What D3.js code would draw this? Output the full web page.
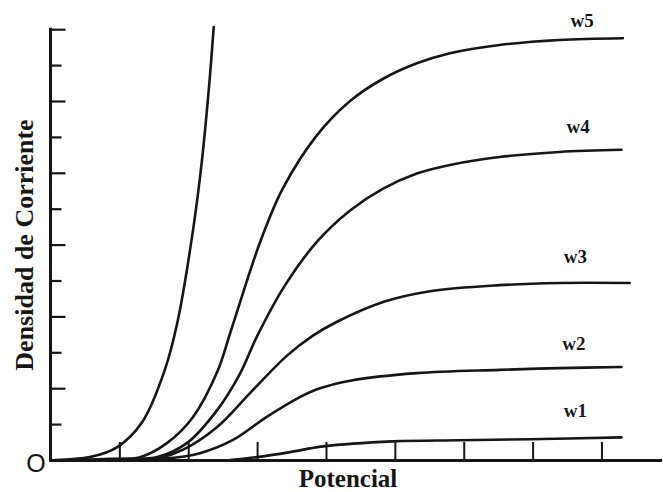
<!DOCTYPE html>
<html>
<head>
<meta charset="utf-8">
<script src="https://cdn.jsdelivr.net/npm/d3@7"></script>
<style>
  html, body { margin: 0; padding: 0; background: #fff; }
  svg { display: block; }
</style>
</head>
<body>
<div id="chart"></div>
<script>
// ── Curvas de polarización: densidad de corriente vs potencial ──

const seriesNames = ['w1', 'w2', 'w3', 'w4', 'w5']

// potential (x) / current density (y), in tick units
const steepX = [0.07, 0.57, 0.97, 1.33, 1.66, 1.85, 2.07, 2.20, 2.31, 2.37]
const steepY = [0, 0.08, 0.36, 1.05, 2.51, 3.90, 6.41, 8.36, 10.58, 12.06]

const w1X = [2.61, 3.00, 3.48, 3.96, 4.97, 5.94, 6.96, 8.29]
const w1Y = [0, 0.08, 0.22, 0.38, 0.52, 0.55, 0.58, 0.63]

const w2X = [1.30, 1.78, 2.17, 2.65, 3.14, 3.62, 3.87, 4.35, 5.32, 6.52, 7.39, 8.29]
const w2Y = [0, 0.06, 0.19, 0.56, 1.20, 1.75, 1.97, 2.21, 2.42, 2.51, 2.56, 2.59]

const w3X = [1.01, 1.59, 1.92, 2.42, 2.90, 3.43, 3.80, 4.16, 4.83, 5.51, 6.52, 7.39, 8.41]
const w3Y = [0, 0.06, 0.28, 0.92, 1.87, 2.90, 3.45, 3.85, 4.40, 4.70, 4.87, 4.93, 4.93]

const w4X = [0.72, 1.15, 1.55, 1.98, 2.42, 2.75, 3.00, 3.40, 3.87, 4.35, 4.83, 5.32, 5.80, 6.52, 7.39, 8.29]
const w4Y = [0, 0.03, 0.08, 0.47, 1.39, 2.40, 3.45, 4.85, 6.08, 6.95, 7.56, 7.98, 8.22, 8.44, 8.58, 8.64]

const w5X = [0.43, 0.86, 1.30, 1.69, 2.07, 2.42, 2.62, 3.04, 3.37, 3.87, 4.35, 4.83, 5.32, 5.80, 6.52, 7.39, 8.31]
const w5Y = [0, 0.03, 0.08, 0.47, 1.20, 2.45, 3.60, 6.05, 7.55, 9.05, 10.00, 10.62, 11.05, 11.33, 11.56, 11.70, 11.75]

// where each wN label sits, in the same units
const labelX = [7.62, 7.60, 7.62, 7.66, 7.72]
const labelY = [1.20, 3.06, 5.49, 9.11, 12.06]

const xTicks = [1, 2, 3, 4, 5, 6, 7, 8]
const yTicks = [1, 2, 3, 4, 5, 6, 7, 8, 9, 10, 11, 12]

const width = 663, height = 492
const ink = '#161616'

const svg = d3.select('#chart')
  .append('svg')
  .attr('width', width)
  .attr('height', height)
  .attr('viewBox', `0 0 ${width} ${height}`)

const x = d3.scaleLinear().domain([0, 8.85]).range([50.5, 660])
const y = d3.scaleLinear().domain([0, 12]).range([460, 29.2])

// y axis — ticks point inward, alternating long / short
const yAxis = svg.append('g')
  .attr('transform', `translate(${x(0)},0)`)
  .call(d3.axisLeft(y).tickValues(yTicks).tickSizeInner(-15).tickSizeOuter(0).tickFormat(''))

yAxis.select('.domain')
  .attr('stroke', ink)
  .attr('stroke-width', 3)
  .attr('stroke-linecap', 'square')
  .attr('d', `M0,${y(0)}V${y(12)}`)
yAxis.selectAll('.tick line')
  .attr('stroke', ink)
  .attr('stroke-width', 2.2)
  .attr('x2', d => d % 2 === 0 ? 15 : 11)

// x axis — ticks point upward
const xAxis = svg.append('g')
  .attr('transform', `translate(0,${y(0)})`)
  .call(d3.axisBottom(x).tickValues(xTicks).tickSizeInner(-18).tickSizeOuter(0).tickFormat(''))

xAxis.select('.domain')
  .attr('stroke', ink)
  .attr('stroke-width', 3)
  .attr('stroke-linecap', 'square')
xAxis.selectAll('.tick line')
  .attr('stroke', ink)
  .attr('stroke-width', 2)

// curves
const line = d3.line()
  .x(d => x(d[0]))
  .y(d => y(d[1]))
  .curve(d3.curveCatmullRom.alpha(0.5))

const curves = [
  d3.zip(steepX, steepY),
  d3.zip(w1X, w1Y),
  d3.zip(w2X, w2Y),
  d3.zip(w3X, w3Y),
  d3.zip(w4X, w4Y),
  d3.zip(w5X, w5Y),
]

svg.append('g')
  .selectAll('path.curve')
  .data(curves)
  .join('path')
  .attr('class', 'curve')
  .attr('d', line)
  .attr('fill', 'none')
  .attr('stroke', ink)
  .attr('stroke-width', 2.6)
  .attr('stroke-linejoin', 'round')
  .attr('stroke-linecap', 'round')

// series labels
svg.append('g')
  .selectAll('text.wlabel')
  .data(seriesNames)
  .join('text')
  .attr('class', 'wlabel')
  .attr('x', (d, i) => x(labelX[i]))
  .attr('y', (d, i) => y(labelY[i]))
  .attr('text-anchor', 'middle')
  .attr('font-family', '"Liberation Serif", "Times New Roman", serif')
  .attr('font-weight', 700)
  .attr('font-size', 19)
  .attr('fill', ink)
  .text(d => d)

// origin mark
svg.append('text')
  .attr('x', 36)
  .attr('y', 472)
  .attr('text-anchor', 'middle')
  .attr('font-family', '"Liberation Sans", Arial, sans-serif')
  .attr('font-size', 25)
  .attr('fill', ink)
  .text('O')

// axis titles
svg.append('text')
  .attr('transform', 'translate(33,245) rotate(-90)')
  .attr('text-anchor', 'middle')
  .attr('font-family', '"Liberation Serif", "Times New Roman", serif')
  .attr('font-weight', 700)
  .attr('font-size', 26)
  .attr('fill', ink)
  .text('Densidad de Corriente')

svg.append('text')
  .attr('x', 348)
  .attr('y', 487)
  .attr('text-anchor', 'middle')
  .attr('font-family', '"Liberation Serif", "Times New Roman", serif')
  .attr('font-weight', 700)
  .attr('font-size', 25)
  .attr('fill', ink)
  .text('Potencial')
</script>
</body>
</html>
